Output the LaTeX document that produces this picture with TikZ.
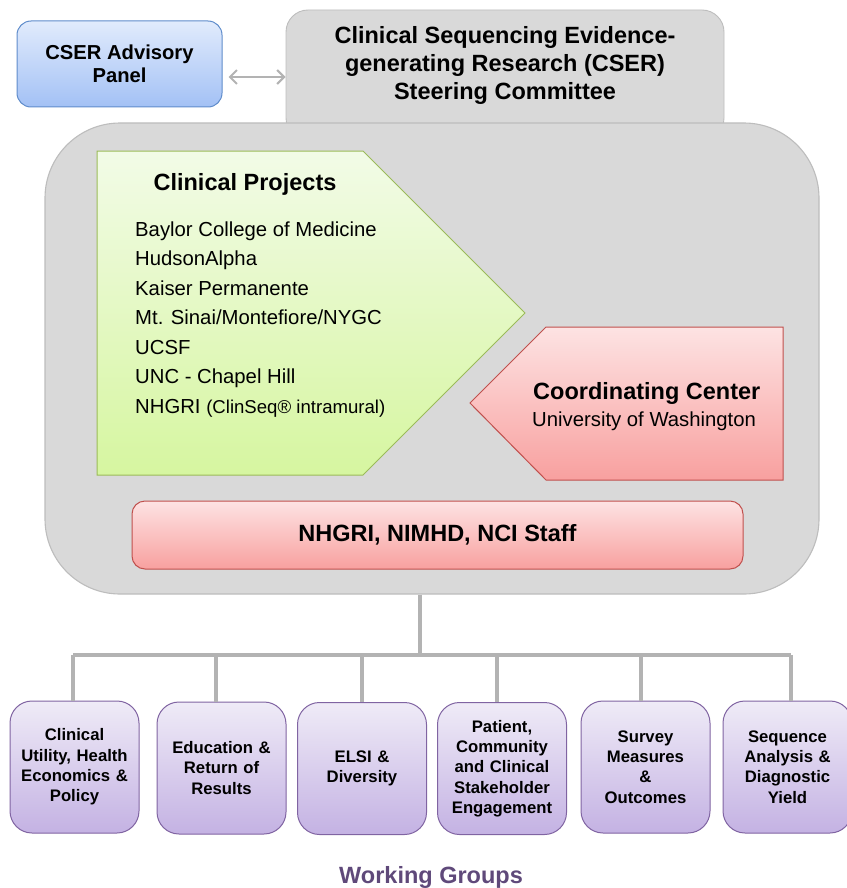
\documentclass[tikz,border=0pt]{standalone}
\usepackage{fontspec}
\setmainfont{Liberation Sans}
\usetikzlibrary{arrows.meta,calc}
\definecolor{mainfill}{HTML}{D9D9D9}
\definecolor{mainedge}{HTML}{BDBDBD}
\definecolor{advtop}{HTML}{E1EBFC}
\definecolor{advbot}{HTML}{A3C1F5}
\definecolor{advedge}{HTML}{5F8CCB}
\definecolor{grtop}{HTML}{F2FBE7}
\definecolor{grbot}{HTML}{D6F6A0}
\definecolor{gredge}{HTML}{9BBB59}
\definecolor{rdtop}{HTML}{FDE3E3}
\definecolor{rdbot}{HTML}{F8A09F}
\definecolor{rdedge}{HTML}{C0504D}
\definecolor{pptop}{HTML}{EFEBF7}
\definecolor{ppbot}{HTML}{C4B2E3}
\definecolor{ppedge}{HTML}{8064A2}
\definecolor{conncol}{HTML}{B3B3B3}
\definecolor{wgtext}{HTML}{5F497A}
\tikzset{
  boldbig/.style={font=\fontsize{23.5}{28.3}\selectfont\bfseries},
  listtext/.style={font=\fontsize{20.3}{24}\selectfont, anchor=base west, inner sep=0pt},
  mainbox/.style={fill=mainfill, draw=mainedge, line width=1.1pt, rounded corners=75pt,
    minimum width=774pt, minimum height=471pt, inner sep=0pt},
  steerbg/.style={fill=mainfill, draw=mainedge, line width=0.9pt, rounded corners=22pt,
    minimum width=438pt, minimum height=130pt, inner sep=0pt},
  advbox/.style={draw=advedge, line width=1pt, rounded corners=14pt, top color=advtop, bottom color=advbot,
    minimum width=205pt, minimum height=86pt, inner sep=0pt, align=center,
    font=\fontsize{20.2}{23}\selectfont\bfseries},
  greenshape/.style={draw=gredge, line width=1pt, top color=grtop, bottom color=grbot},
  redshape/.style={draw=rdedge, line width=1pt, top color=rdtop, bottom color=rdbot},
  staffbox/.style={draw=rdedge, line width=1pt, rounded corners=13pt, top color=rdtop, bottom color=rdbot,
    minimum width=611pt, minimum height=68pt, inner sep=0pt, boldbig},
  wgbox/.style={draw=ppedge, line width=1pt, rounded corners=22pt, top color=pptop, bottom color=ppbot,
    minimum width=129pt, minimum height=132pt, text width=124pt, align=center, inner sep=0pt,
    font=\fontsize{16.7}{20.3}\selectfont\bfseries},
  conn/.style={draw=conncol, line width=3.2pt},
  twoway/.style={draw=conncol, line width=2pt, {Straight Barb[length=7pt,width=14pt]}-{Straight Barb[length=7pt,width=14pt]}},
}
\begin{document}
\begin{tikzpicture}[x=1pt,y=-1pt]
\useasboundingbox (0,0) rectangle (846,888);
% steering committee tab and main body
\node[steerbg] (steerbg) at (505,75) {};
\node[mainbox] (main) at (432,358.5) {};
\node[boldbig, align=center, inner sep=0pt] (steer) at (505,65.5)
  {Clinical Sequencing Evidence-\\generating Research (CSER)\\Steering Committee};
% advisory panel
\node[advbox] (adv) at (119.5,64) {CSER Advisory\\Panel};
\draw[twoway, shorten <=6pt] ([yshift=-13pt]adv.east) -- ([yshift=-13pt]adv.east -| steerbg.west);
% clinical projects
\draw[greenshape] (97,151) -- (363,151) -- (525,313) -- (363,475) -- (97,475) -- cycle;
\node[boldbig, anchor=base, inner sep=0pt] (cptitle) at (245,190) {Clinical Projects};
\node[listtext] (cp1) at (135,236) {Baylor College of Medicine};
\node[listtext] (cp2) at (135,265.5) {HudsonAlpha};
\node[listtext] (cp3) at (135,295) {Kaiser Permanente};
\node[listtext] (cp4) at (135,324.5) {Mt. Sinai/Montefiore/NYGC};
\node[listtext] (cp5) at (135,354) {UCSF};
\node[listtext] (cp6) at (135,383.5) {UNC - Chapel Hill};
\node[listtext] (cp7) at (135,413) {NHGRI {\fontsize{18.6}{22}\selectfont(ClinSeq® intramural)}};
% coordinating center
\draw[redshape] (470,403) -- (546,327) -- (783,327) -- (783,480) -- (546,480) -- cycle;
\node[boldbig, anchor=base west, inner sep=0pt] (cctitle) at (533,399) {Coordinating Center};
\node[listtext] (ccsub) at (532,426) {University of Washington};
% staff
\node[staffbox] (staff) at (437.5,535) {NHGRI, NIMHD, NCI Staff};
% working groups
\node[wgbox] (wg1) at (74.5,767) {Clinical\\Utility, Health\\Economics \&\\Policy};
\node[wgbox] (wg2) at (221.5,768) {Education \&\\Return of\\Results};
\node[wgbox] (wg3) at (362,768.5) {ELSI \&\\Diversity};
\node[wgbox] (wg4) at (502,768.5) {Patient,\\Community\\and Clinical\\Stakeholder\\Engagement};
\node[wgbox] (wg5) at (645.5,767) {Survey\\Measures\\\&\\Outcomes};
\node[wgbox] (wg6) at (787.5,767) {Sequence\\Analysis \&\\Diagnostic\\Yield};
\coordinate (hub) at (420,655);
\draw[conn] (hub |- main.south) -- (hub);
\draw[conn] ([xshift=-1.5pt]wg1.north |- hub) -- ([xshift=3.5pt]wg6.north |- hub);
\draw[conn] ([xshift=-1.5pt]wg1.north |- hub) -- ([xshift=-1.5pt]wg1.north);
\draw[conn] ([xshift=-5.5pt]wg2.north |- hub) -- ([xshift=-5.5pt]wg2.north);
\draw[conn] (wg3.north |- hub) -- (wg3.north);
\draw[conn] ([xshift=-5pt]wg4.north |- hub) -- ([xshift=-5pt]wg4.north);
\draw[conn] ([xshift=-4.5pt]wg5.north |- hub) -- ([xshift=-4.5pt]wg5.north);
\draw[conn] ([xshift=3.5pt]wg6.north |- hub) -- ([xshift=3.5pt]wg6.north);
\node[boldbig, text=wgtext, anchor=base, inner sep=0pt] (wglabel) at (431,883) {Working Groups};
\end{tikzpicture}
\end{document}
